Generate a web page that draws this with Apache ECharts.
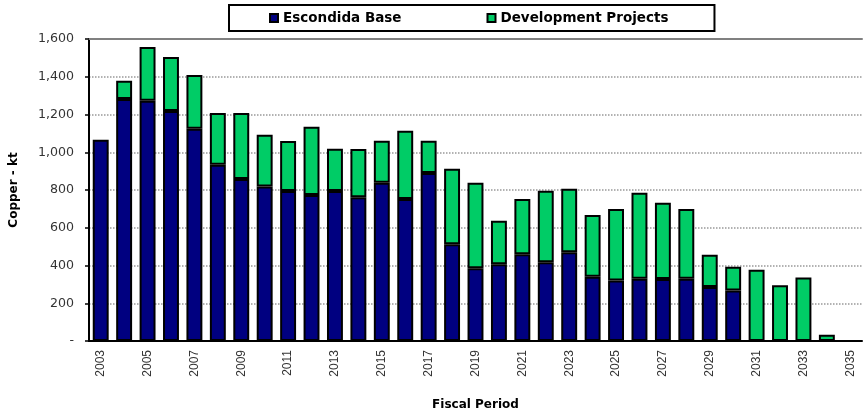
<!DOCTYPE html>
<html>
<head>
<meta charset="utf-8">
<script src="https://cdn.jsdelivr.net/npm/echarts@6/dist/echarts.min.js"></script>
<style>
  html, body { margin: 0; padding: 0; background: #fff; }
  #chart { width: 864px; height: 413px; }
</style>
</head>
<body>
<div id="chart"></div>
<script>
const years = ['2003', '2004', '2005', '2006', '2007', '2008', '2009', '2010', '2011', '2012',
  '2013', '2014', '2015', '2016', '2017', '2018', '2019', '2020', '2021', '2022', '2023',
  '2024', '2025', '2026', '2027', '2028', '2029', '2030', '2031', '2032', '2033', '2034', '2035'];

const escondidaBase = [1066, 1282, 1273, 1219, 1125, 934, 858, 818, 795, 773,
  795, 761, 839, 752, 890, 512, 385, 406, 459, 417, 470,
  341, 321, 330, 328, 330, 286, 267, null, null, null, null, null];

const developmentProjects = [null, 97, 285, 286, 284, 274, 350, 275, 265, 362,
  224, 256, 222, 362, 171, 401, 454, 231, 293, 379, 337,
  327, 378, 456, 405, 369, 171, 127, 378, 295, 337, 33, null];

const yTicks = [0, 200, 400, 600, 800, 1000, 1200, 1400, 1600];

const chart = echarts.init(document.getElementById('chart'));

chart.setOption({
  animation: false,
  legend: {
    left: 229,
    top: 5,
    padding: [6, 46, 6, 40],
    itemGap: 85,
    itemWidth: 8,
    itemHeight: 8,
    borderColor: '#000',
    borderWidth: 2,
    icon: 'rect',
    textStyle: { fontFamily: 'DejaVu Sans', fontWeight: 'bold', fontSize: 13.5, color: '#000' },
    data: ['Escondida Base', 'Development Projects']
  },
  grid: { left: 89, right: 2, top: 39, bottom: 72, outerBoundsMode: 'none' },
  xAxis: [
    {
      type: 'category',
      data: years,
      name: 'Fiscal Period',
      nameLocation: 'middle',
      nameGap: 58,
      nameTextStyle: { fontFamily: 'DejaVu Sans', fontWeight: 'bold', fontSize: 12, color: '#000' },
      axisLine: { lineStyle: { color: '#000', width: 2 } },
      axisTick: { interval: 0, length: 4, lineStyle: { color: '#000', width: 1.5 } },
      axisLabel: {
        interval: 1,
        rotate: 90,
        margin: 9,
        fontFamily: 'Liberation Sans',
        fontSize: 12,
        color: '#333'
      }
    },
    {
      type: 'category',
      data: years,
      position: 'top',
      axisLine: { lineStyle: { color: '#808080', width: 2 } },
      axisTick: { show: false },
      axisLabel: { show: false }
    }
  ],
  yAxis: {
    type: 'value',
    min: yTicks[0],
    max: yTicks[yTicks.length - 1],
    interval: 200,
    name: 'Copper - kt',
    nameLocation: 'middle',
    nameGap: 69,
    nameTextStyle: { fontFamily: 'DejaVu Sans', fontWeight: 'bold', fontSize: 12, color: '#000' },
    axisLine: { show: true, lineStyle: { color: '#000', width: 2 } },
    axisTick: { show: true, length: 4, lineStyle: { color: '#000', width: 1.5 } },
    axisLabel: {
      margin: 15,
      fontFamily: 'DejaVu Sans',
      fontSize: 12.6,
      color: '#333',
      formatter: v => v === 0 ? '-' : v.toLocaleString('en-US')
    },
    splitLine: { lineStyle: { color: '#999', type: 'dotted', width: 1.5 } }
  },
  series: [
    {
      name: 'Escondida Base',
      type: 'bar',
      stack: 'copper',
      barCategoryGap: '32%',
      data: escondidaBase,
      itemStyle: { color: '#000080', borderColor: '#000', borderWidth: 2 }
    },
    {
      name: 'Development Projects',
      type: 'bar',
      stack: 'copper',
      barCategoryGap: '32%',
      data: developmentProjects,
      itemStyle: { color: '#00cc66', borderColor: '#000', borderWidth: 2 }
    }
  ]
});
</script>
</body>
</html>
